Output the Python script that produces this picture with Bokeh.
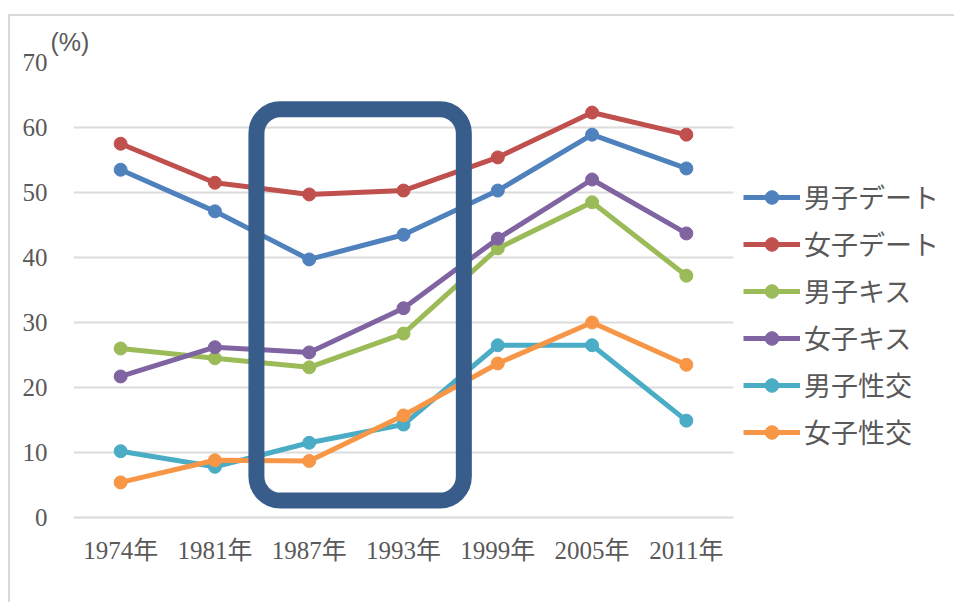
from bokeh.plotting import figure
from bokeh.models import Range1d, FactorRange, BoxAnnotation, Legend
from bokeh.embed import file_html
from bokeh.resources import INLINE

years = ["1974年", "1981年", "1987年", "1993年", "1999年", "2005年", "2011年"]
boy_date = [53.5, 47.1, 39.7, 43.5, 50.3, 58.9, 53.7]
girl_date = [57.5, 51.5, 49.7, 50.3, 55.4, 62.3, 58.9]
boy_kiss = [26.0, 24.5, 23.1, 28.3, 41.4, 48.5, 37.2]
girl_kiss = [21.7, 26.2, 25.4, 32.2, 42.9, 52.0, 43.7]
boy_sex = [10.2, 7.8, 11.5, 14.3, 26.5, 26.5, 14.9]
girl_sex = [5.4, 8.8, 8.7, 15.7, 23.7, 30.0, 23.5]

series_names = ["男子デート", "女子デート", "男子キス", "女子キス", "男子性交", "女子性交"]
series_values = [boy_date, girl_date, boy_kiss, girl_kiss, boy_sex, girl_sex]
colors = ["#4F81BD", "#C0504D", "#9BBB59", "#8064A2", "#4BACC6", "#F79646"]
y_ticks = [0, 10, 20, 30, 40, 50, 60, 70]

SERIF = "'Liberation Serif', 'Noto Sans CJK JP'"
CJK = "'Noto Sans CJK JP'"
GRAY = "#595959"

p = figure(frame_width=660, frame_height=455,
           x_range=FactorRange(*years, range_padding=0),
           y_range=Range1d(0, 70), output_backend="svg", toolbar_location=None,
           min_border_left=63, min_border_right=0, min_border_top=46, min_border_bottom=85,
           title="(%)",
           styles={"margin-top": "14px", "margin-left": "8px",
                   "border-top": "2px solid #d9d9d9",
                   "border-left": "2px solid #d9d9d9"})
p.outline_line_color = None
p.background_fill_color = "white"
p.border_fill_color = "white"

p.title.text_font = "'Liberation Sans'"
p.title.text_font_size = "25px"
p.title.text_font_style = "normal"
p.title.text_color = GRAY
p.title.align = "left"
p.title.offset = -23
p.title.standoff = 14

p.xgrid.grid_line_color = None
p.ygrid.grid_line_color = "#dcdcdc"
p.ygrid.grid_line_width = 2
p.yaxis.ticker = y_ticks

p.yaxis.axis_line_color = None
p.yaxis.major_tick_line_color = None
p.yaxis.minor_tick_line_color = None
p.yaxis.major_label_standoff = 20
p.xaxis.axis_line_color = "#d9d9d9"
p.xaxis.axis_line_width = 2
p.xaxis.major_tick_line_color = None
p.xaxis.minor_tick_line_color = None
p.xaxis.major_label_standoff = 13
for ax in (p.xaxis, p.yaxis):
    ax.major_label_text_font = SERIF
    ax.major_label_text_font_size = "25px"
    ax.major_label_text_color = GRAY

items = []
for name, vals, c in zip(series_names, series_values, colors):
    r1 = p.line(years, vals, line_color=c, line_width=5)
    r2 = p.scatter(years, vals, size=13, fill_color=c, line_color=c)
    items.append((name, [r1, r2]))

legend = Legend(items=items, location=(10, 66), orientation="vertical")
legend.glyph_width = 57
legend.glyph_height = 34
legend.label_height = 26
legend.spacing = 8
legend.label_standoff = 4
legend.padding = 0
legend.margin = 0
legend.border_line_color = None
legend.background_fill_alpha = 0
legend.label_text_font = CJK
legend.label_text_font_size = "27px"
legend.label_text_color = GRAY
p.add_layout(legend, "right")

# highlight box around 1987-1993
box = BoxAnnotation(left=1.94, right=4.14, bottom=2.6, top=62.8,
                    fill_alpha=0, line_color="#385D8A", line_alpha=1.0,
                    line_width=16, border_radius=24)
p.add_layout(box)

open("out.html", "w").write(file_html(p, INLINE))
